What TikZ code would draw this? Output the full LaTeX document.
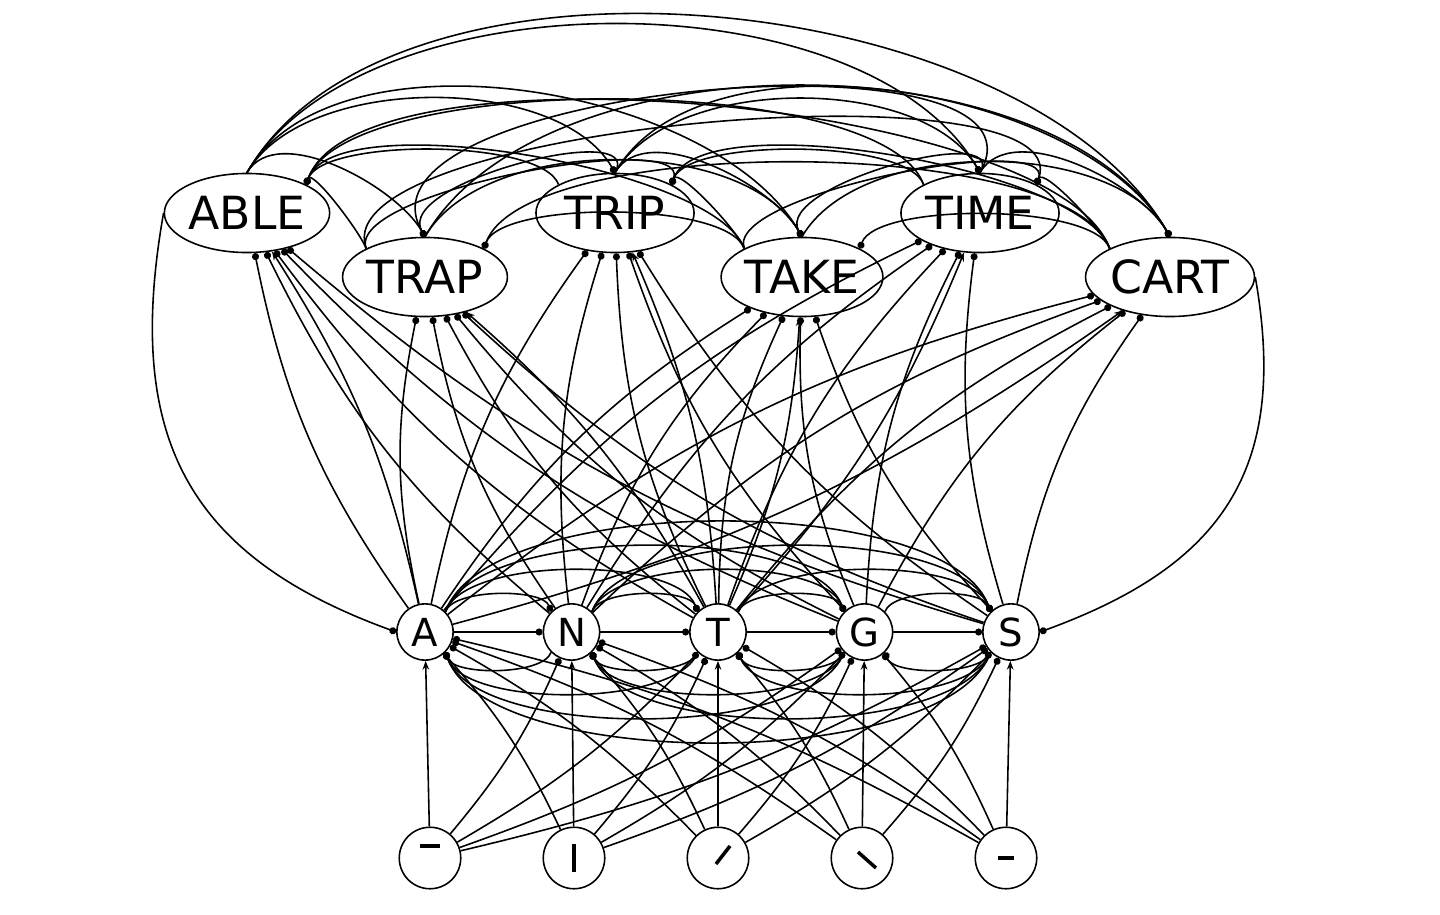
\documentclass[tikz,border=0pt]{standalone}
\usepackage{fontspec}
\setsansfont{DejaVu Sans}
\usetikzlibrary{arrows.meta,shapes.geometric}
\begin{document}
\begin{tikzpicture}[x=0.02cm,y=-0.02cm,line width=0.9pt,
    word/.style={ellipse,draw,minimum width=90pt,minimum height=45pt,font=\sffamily\fontsize{26}{26}\selectfont,inner sep=0pt},
    letter/.style={circle,draw,minimum size=32pt,font=\sffamily\fontsize{22}{22}\selectfont,inner sep=0pt},
    feat/.style={circle,draw,minimum size=35pt,inner sep=0pt},
    exc/.style={-{Stealth[length=5pt]}},
    inh/.style={-{Circle[length=4pt]}}]
    \useasboundingbox (0,0) rectangle (1440,915);
    % Word level
    \node[word] (w1) at (247,213) {ABLE};
    \node[word] (w2) at (615,213) {TRIP};
    \node[word] (w3) at (980,213) {TIME};
    \node[word] (w4) at (425,277) {TRAP};
    \node[word] (w5) at (802,277) {TAKE};
    \node[word] (w6) at (1170,277) {CART};
    % Letter level
    \foreach \l [count=\i] in {A,N,T,G,S}
        \node[letter] (l\i) at ({425+146.5*(\i-1)},632) {\l};
    % Feature level
    \foreach \i in {1,...,5}
        \node[feat] (f\i) at ({430+144*(\i-1)},858) {};
    % Feature glyphs
    \draw[line width=2pt] ([shift={(-10,-12)}]f1.center) -- ++(20,0);
    \draw[line width=2pt] ([shift={(0,-14)}]f2.center) -- ++(0,28);
    \draw[line width=2pt] ([shift={(-2,6)}]f3.center) -- ++(14,-18);
    \draw[line width=2pt] ([shift={(-4,-6)}]f4.center) -- ++(18,16);
    \draw[line width=2pt] ([shift={(-8,0)}]f5.center) -- ++(16,0);
    % Features to letters
    \foreach \i in {1,...,5} {
        \draw[exc] (f\i) -- (l\i);
        \foreach \j in {1,...,5} {
            \ifnum\i=\j\else
                \draw[inh] (f\i) to[bend right=8] (l\j);
            \fi
        }
    }
    % Letter to letter
    \foreach \i in {1,...,4} {
        \draw[inh] (l\i) -- (l\the\numexpr\i+1\relax);
        \foreach \j in {\i,...,5} {
            \ifnum\i=\j\else
                \draw[inh] (l\i.north east) to[out=70,in=110,looseness=0.6] (l\j.north west);
                \draw[inh] (l\j.south west) to[out=-110,in=-70,looseness=0.6] (l\i.south east);
            \fi
        }
    }
    % Letters to words
    \foreach \i in {1,...,5}
        \foreach \w in {1,...,6}
            \draw[inh] (l\i) to[bend left=12] (w\w);
    \foreach \w/\i in {1/1,2/3,3/3,4/3,5/3,6/1}
        \draw[exc] (l\i) to[bend right=10] (w\w);
    % Words to words
    \foreach \a/\b in {1/2,1/3,1/4,1/5,1/6,2/3,2/4,2/5,2/6,3/4,3/5,3/6,4/5,4/6,5/6} {
        \draw[inh] (w\a.north) to[out=60,in=120,looseness=0.8] (w\b.north);
        \draw[inh] (w\b.north west) to[out=110,in=70,looseness=0.5] (w\a.north east);
    }
    \draw[inh] (w1.west) to[out=-100,in=160,looseness=1.2] (l1.west);
    \draw[inh] (w6.east) to[out=-80,in=20,looseness=1.2] (l5.east);
\end{tikzpicture}
\end{document}
